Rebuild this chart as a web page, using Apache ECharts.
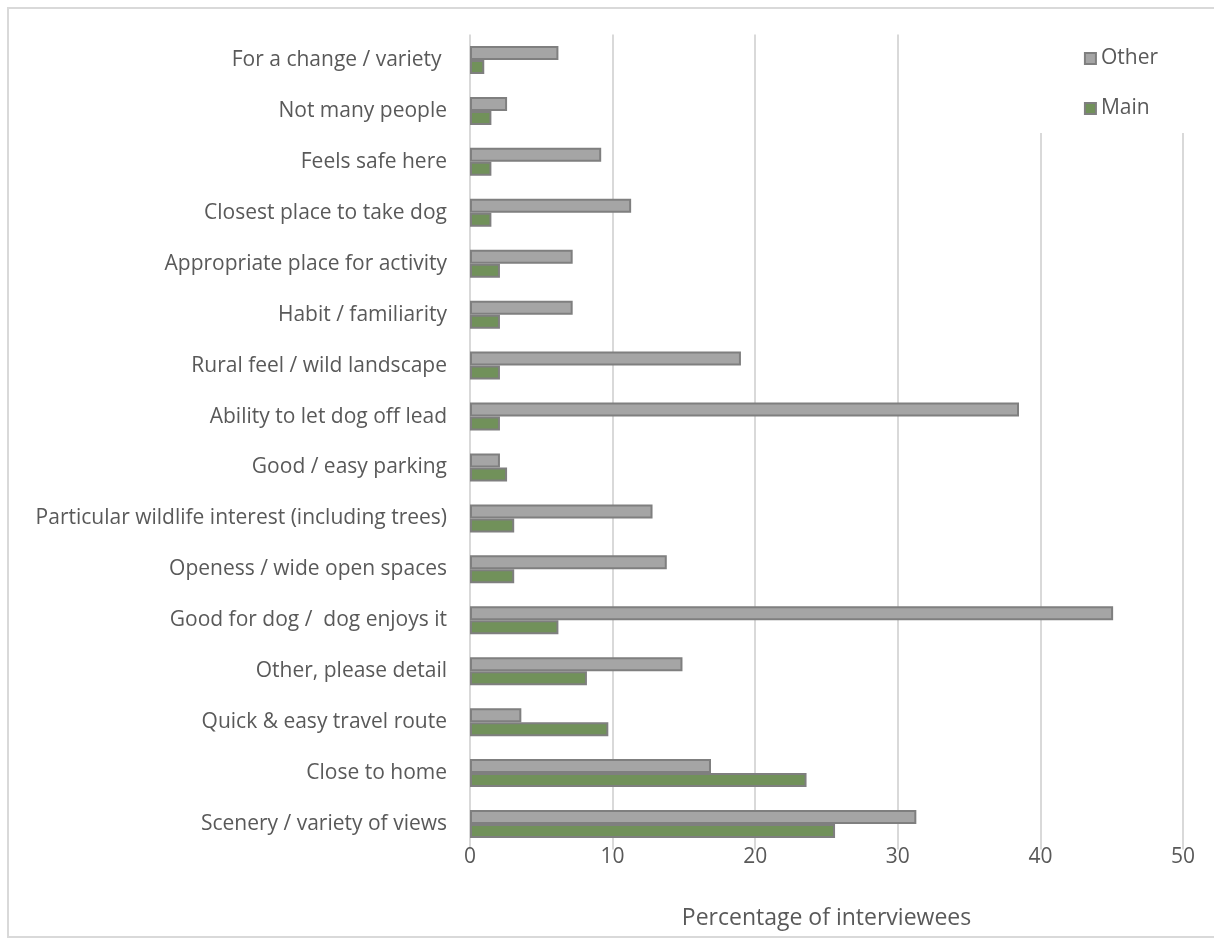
<!DOCTYPE html>
<html>
<head>
<meta charset="utf-8">
<script src="https://cdn.jsdelivr.net/npm/echarts@6/dist/echarts.min.js"></script>
<style>
  html, body { margin: 0; padding: 0; background: #fff; }
  #chart { width: 1214px; height: 938px; }
</style>
</head>
<body>
<div id="chart"></div>
<script>
// Reasons for choosing the site, listed top to bottom
const categories = [
  'For a change / variety ',
  'Not many people',
  'Feels safe here',
  'Closest place to take dog',
  'Appropriate place for activity',
  'Habit / familiarity',
  'Rural feel / wild landscape',
  'Ability to let dog off lead',
  'Good / easy parking',
  'Particular wildlife interest (including trees)',
  'Openess / wide open spaces',
  'Good for dog /  dog enjoys it',
  'Other, please detail',
  'Quick & easy travel route',
  'Close to home',
  'Scenery / variety of views'
];

// Percentage of interviewees giving each reason
const otherValues = [6.2, 2.6, 9.2, 11.3, 7.2, 7.2, 19.0, 38.5, 2.1, 12.8, 13.8, 45.1, 14.9, 3.6, 16.9, 31.3];
const mainValues  = [1.0, 1.5, 1.5, 1.5, 2.1, 2.1, 2.1, 2.1, 2.6, 3.1, 3.1, 6.2, 8.2, 9.7, 23.6, 25.6];

const xTicks = [0, 10, 20, 30, 40, 50];

const FONT = 'Open Sans';
const TEXT = '#595959';

const chart = echarts.init(document.getElementById('chart'), null, { renderer: 'canvas' });

chart.setOption({
  backgroundColor: '#ffffff',
  animation: false,
  textStyle: { fontFamily: FONT, color: TEXT },
  graphic: [{
    type: 'rect',
    shape: { x: 8, y: 8, width: 1210, height: 929 },
    style: { fill: 'none', stroke: '#d9d9d9', lineWidth: 2 },
    silent: true,
    z: 0
  }],
  grid: { left: 470, right: 31, top: 34.5, bottom: 88.5, containLabel: false },
  legend: {
    data: ['Other', 'Main'],
    orient: 'vertical',
    right: 14,
    top: 33,
    icon: 'rect',
    itemWidth: 11,
    itemHeight: 11,
    itemGap: 29,
    padding: [15, 42, 14, 56],
    backgroundColor: '#ffffff',
    textStyle: { fontFamily: FONT, fontSize: 21, color: TEXT },
    z: 10
  },
  xAxis: {
    type: 'value',
    min: xTicks[0],
    max: xTicks[xTicks.length - 1],
    interval: 10,
    name: 'Percentage of interviewees',
    nameLocation: 'middle',
    nameGap: 57,
    nameTextStyle: { fontFamily: FONT, fontSize: 23, color: TEXT },
    axisLine: { show: false },
    axisTick: { show: false },
    axisLabel: { fontFamily: FONT, fontSize: 21, color: TEXT, margin: -3 },
    splitLine: { show: true, lineStyle: { color: '#d9d9d9', width: 2 } }
  },
  yAxis: {
    type: 'category',
    data: categories,
    inverse: true,
    axisLine: { show: false },
    axisTick: { show: false },
    axisLabel: { fontFamily: FONT, fontSize: 21, color: TEXT, margin: 23 },
    splitLine: { show: false }
  },
  series: [
    {
      name: 'Other',
      type: 'bar',
      data: otherValues,
      barWidth: 14,
      barGap: '0%',
      itemStyle: { color: '#a5a5a5', borderColor: '#7f7f7f', borderWidth: 2 }
    },
    {
      name: 'Main',
      type: 'bar',
      data: mainValues,
      barWidth: 14,
      barGap: '0%',
      itemStyle: { color: '#71915a', borderColor: '#7f7f7f', borderWidth: 2 }
    }
  ]
});
</script>
</body>
</html>
